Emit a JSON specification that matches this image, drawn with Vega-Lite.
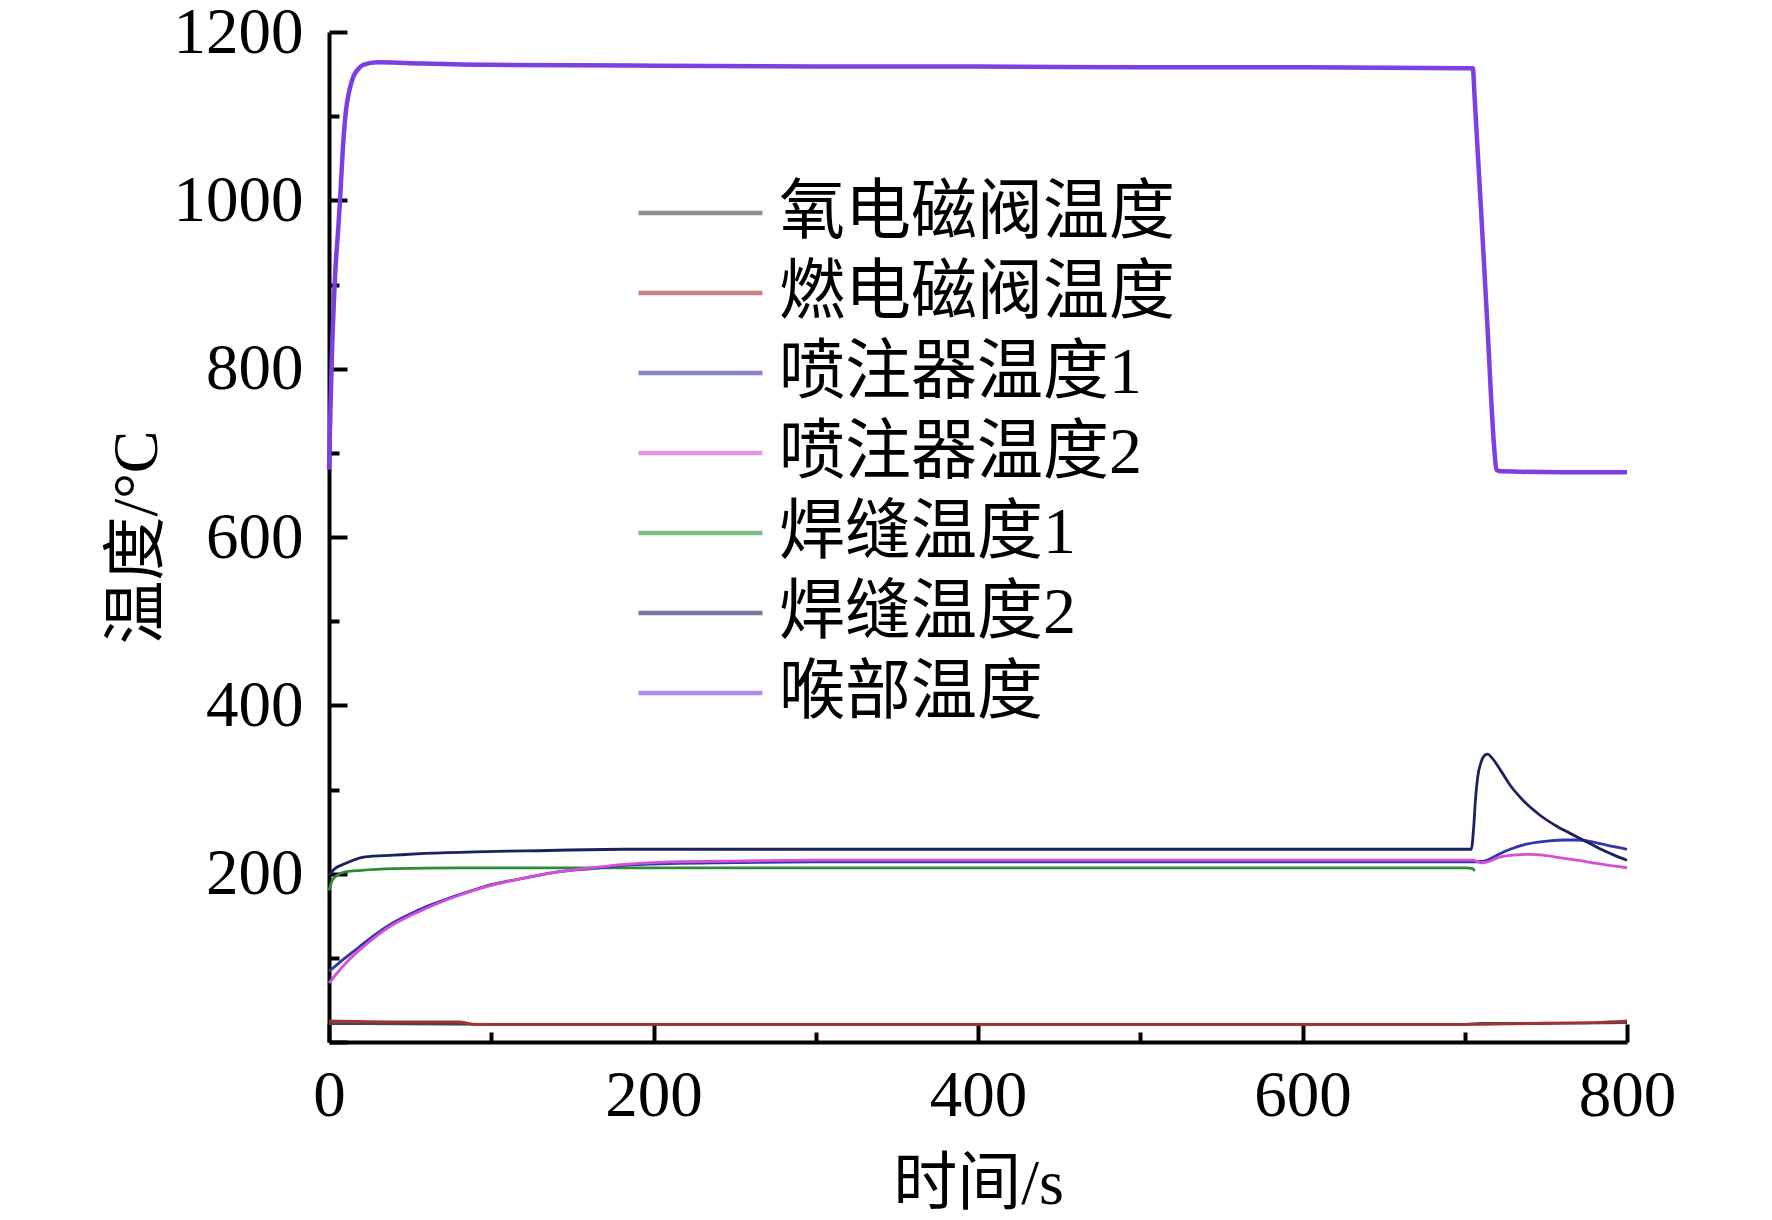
{
  "$schema": "https://vega.github.io/schema/vega-lite/v6.json",
  "width": 1298,
  "height": 1010,
  "autosize": "none",
  "padding": {"left": 329, "top": 32, "right": 145, "bottom": 178},
  "background": "white",
  "config": {
    "view": {"stroke": null},
    "axis": {
      "grid": false,
      "domainColor": "black",
      "domainWidth": 4,
      "tickColor": "black",
      "tickWidth": 4,
      "labelFont": "Liberation Serif",
      "labelFontSize": 65,
      "labelColor": "black",
      "labelFlush": false,
      "labelOverlap": false,
      "titleFont": "Liberation Serif, Noto Sans CJK SC",
      "titleFontSize": 64,
      "titleFontWeight": "normal",
      "titleColor": "black"
    }
  },
  "data": {
    "values": [
      {"series": "氧电磁阀温度", "t": 0, "T": 22},
      {"series": "氧电磁阀温度", "t": 100, "T": 21},
      {"series": "氧电磁阀温度", "t": 300, "T": 21},
      {"series": "氧电磁阀温度", "t": 500, "T": 21},
      {"series": "氧电磁阀温度", "t": 700, "T": 21},
      {"series": "氧电磁阀温度", "t": 710, "T": 22},
      {"series": "氧电磁阀温度", "t": 725, "T": 22},
      {"series": "氧电磁阀温度", "t": 800, "T": 23},

      {"series": "燃电磁阀温度", "t": 0, "T": 25},
      {"series": "燃电磁阀温度", "t": 40, "T": 24},
      {"series": "燃电磁阀温度", "t": 80, "T": 24},
      {"series": "燃电磁阀温度", "t": 90, "T": 21},
      {"series": "燃电磁阀温度", "t": 200, "T": 21},
      {"series": "燃电磁阀温度", "t": 400, "T": 21},
      {"series": "燃电磁阀温度", "t": 600, "T": 21},
      {"series": "燃电磁阀温度", "t": 700, "T": 21},
      {"series": "燃电磁阀温度", "t": 740, "T": 22},
      {"series": "燃电磁阀温度", "t": 780, "T": 23},
      {"series": "燃电磁阀温度", "t": 800, "T": 25},

      {"series": "焊缝温度1", "t": 0, "T": 180},
      {"series": "焊缝温度1", "t": 2, "T": 192},
      {"series": "焊缝温度1", "t": 5, "T": 198},
      {"series": "焊缝温度1", "t": 10, "T": 202},
      {"series": "焊缝温度1", "t": 20, "T": 204},
      {"series": "焊缝温度1", "t": 40, "T": 206},
      {"series": "焊缝温度1", "t": 80, "T": 207},
      {"series": "焊缝温度1", "t": 150, "T": 207},
      {"series": "焊缝温度1", "t": 300, "T": 207},
      {"series": "焊缝温度1", "t": 500, "T": 207},
      {"series": "焊缝温度1", "t": 700, "T": 207},
      {"series": "焊缝温度1", "t": 705, "T": 206},
      {"series": "焊缝温度1", "t": 706, "T": 203},

      {"series": "喷注器温度1", "t": 0, "T": 84},
      {"series": "喷注器温度1", "t": 5, "T": 92},
      {"series": "喷注器温度1", "t": 10, "T": 100},
      {"series": "喷注器温度1", "t": 18, "T": 112},
      {"series": "喷注器温度1", "t": 28, "T": 127},
      {"series": "喷注器温度1", "t": 39, "T": 141},
      {"series": "喷注器温度1", "t": 50, "T": 152},
      {"series": "喷注器温度1", "t": 59, "T": 160},
      {"series": "喷注器温度1", "t": 70, "T": 168},
      {"series": "喷注器温度1", "t": 80, "T": 175},
      {"series": "喷注器温度1", "t": 90, "T": 181},
      {"series": "喷注器温度1", "t": 100, "T": 187},
      {"series": "喷注器温度1", "t": 110, "T": 191},
      {"series": "喷注器温度1", "t": 121, "T": 195},
      {"series": "喷注器温度1", "t": 141, "T": 202},
      {"series": "喷注器温度1", "t": 162, "T": 206},
      {"series": "喷注器温度1", "t": 182, "T": 210},
      {"series": "喷注器温度1", "t": 210, "T": 212},
      {"series": "喷注器温度1", "t": 250, "T": 213},
      {"series": "喷注器温度1", "t": 300, "T": 214},
      {"series": "喷注器温度1", "t": 400, "T": 214},
      {"series": "喷注器温度1", "t": 500, "T": 214},
      {"series": "喷注器温度1", "t": 600, "T": 214},
      {"series": "喷注器温度1", "t": 700, "T": 214},
      {"series": "喷注器温度1", "t": 705, "T": 214},
      {"series": "喷注器温度1", "t": 712, "T": 215},
      {"series": "喷注器温度1", "t": 717, "T": 219},
      {"series": "喷注器温度1", "t": 722, "T": 224},
      {"series": "喷注器温度1", "t": 728, "T": 229},
      {"series": "喷注器温度1", "t": 738, "T": 235},
      {"series": "喷注器温度1", "t": 752, "T": 239},
      {"series": "喷注器温度1", "t": 762, "T": 240},
      {"series": "喷注器温度1", "t": 770, "T": 240},
      {"series": "喷注器温度1", "t": 778, "T": 238},
      {"series": "喷注器温度1", "t": 785, "T": 235},
      {"series": "喷注器温度1", "t": 792, "T": 232},
      {"series": "喷注器温度1", "t": 800, "T": 229},

      {"series": "喷注器温度2", "t": 0, "T": 70},
      {"series": "喷注器温度2", "t": 5, "T": 82},
      {"series": "喷注器温度2", "t": 10, "T": 93},
      {"series": "喷注器温度2", "t": 18, "T": 108},
      {"series": "喷注器温度2", "t": 28, "T": 124},
      {"series": "喷注器温度2", "t": 39, "T": 139},
      {"series": "喷注器温度2", "t": 50, "T": 150},
      {"series": "喷注器温度2", "t": 59, "T": 158},
      {"series": "喷注器温度2", "t": 70, "T": 167},
      {"series": "喷注器温度2", "t": 80, "T": 174},
      {"series": "喷注器温度2", "t": 100, "T": 186},
      {"series": "喷注器温度2", "t": 121, "T": 195},
      {"series": "喷注器温度2", "t": 141, "T": 202},
      {"series": "喷注器温度2", "t": 162, "T": 207},
      {"series": "喷注器温度2", "t": 182, "T": 211},
      {"series": "喷注器温度2", "t": 210, "T": 214},
      {"series": "喷注器温度2", "t": 250, "T": 215},
      {"series": "喷注器温度2", "t": 300, "T": 216},
      {"series": "喷注器温度2", "t": 400, "T": 216},
      {"series": "喷注器温度2", "t": 500, "T": 216},
      {"series": "喷注器温度2", "t": 600, "T": 216},
      {"series": "喷注器温度2", "t": 700, "T": 216},
      {"series": "喷注器温度2", "t": 705, "T": 216},
      {"series": "喷注器温度2", "t": 710, "T": 213},
      {"series": "喷注器温度2", "t": 714, "T": 214},
      {"series": "喷注器温度2", "t": 722, "T": 220},
      {"series": "喷注器温度2", "t": 730, "T": 222},
      {"series": "喷注器温度2", "t": 740, "T": 223},
      {"series": "喷注器温度2", "t": 748, "T": 222},
      {"series": "喷注器温度2", "t": 755, "T": 220},
      {"series": "喷注器温度2", "t": 769, "T": 216},
      {"series": "喷注器温度2", "t": 785, "T": 211},
      {"series": "喷注器温度2", "t": 800, "T": 207},

      {"series": "焊缝温度2", "t": 0, "T": 198},
      {"series": "焊缝温度2", "t": 3, "T": 205},
      {"series": "焊缝温度2", "t": 10, "T": 212},
      {"series": "焊缝温度2", "t": 22, "T": 220},
      {"series": "焊缝温度2", "t": 40, "T": 222},
      {"series": "焊缝温度2", "t": 59, "T": 224},
      {"series": "焊缝温度2", "t": 90, "T": 226},
      {"series": "焊缝温度2", "t": 121, "T": 227},
      {"series": "焊缝温度2", "t": 182, "T": 229},
      {"series": "焊缝温度2", "t": 300, "T": 229},
      {"series": "焊缝温度2", "t": 400, "T": 229},
      {"series": "焊缝温度2", "t": 500, "T": 229},
      {"series": "焊缝温度2", "t": 600, "T": 229},
      {"series": "焊缝温度2", "t": 704, "T": 229},
      {"series": "焊缝温度2", "t": 705.5, "T": 255},
      {"series": "焊缝温度2", "t": 706.5, "T": 285},
      {"series": "焊缝温度2", "t": 708, "T": 315},
      {"series": "焊缝温度2", "t": 710, "T": 332},
      {"series": "焊缝温度2", "t": 712, "T": 340},
      {"series": "焊缝温度2", "t": 714, "T": 342},
      {"series": "焊缝温度2", "t": 717, "T": 337},
      {"series": "焊缝温度2", "t": 722, "T": 323},
      {"series": "焊缝温度2", "t": 728, "T": 305},
      {"series": "焊缝温度2", "t": 736, "T": 287},
      {"series": "焊缝温度2", "t": 746, "T": 270},
      {"series": "焊缝温度2", "t": 757, "T": 256},
      {"series": "焊缝温度2", "t": 769, "T": 244},
      {"series": "焊缝温度2", "t": 778, "T": 235},
      {"series": "焊缝温度2", "t": 785, "T": 228},
      {"series": "焊缝温度2", "t": 792, "T": 222},
      {"series": "焊缝温度2", "t": 800, "T": 216},

      {"series": "喉部温度", "t": 0, "T": 680},
      {"series": "喉部温度", "t": 1, "T": 760},
      {"series": "喉部温度", "t": 2, "T": 830},
      {"series": "喉部温度", "t": 3, "T": 880},
      {"series": "喉部温度", "t": 4, "T": 920},
      {"series": "喉部温度", "t": 5.5, "T": 961},
      {"series": "喉部温度", "t": 6.8, "T": 1000},
      {"series": "喉部温度", "t": 8.5, "T": 1060},
      {"series": "喉部温度", "t": 10.3, "T": 1104},
      {"series": "喉部温度", "t": 12.5, "T": 1130},
      {"series": "喉部温度", "t": 15, "T": 1147},
      {"series": "喉部温度", "t": 18, "T": 1156},
      {"series": "喉部温度", "t": 21, "T": 1161},
      {"series": "喉部温度", "t": 30, "T": 1164},
      {"series": "喉部温度", "t": 50, "T": 1163},
      {"series": "喉部温度", "t": 100, "T": 1161},
      {"series": "喉部温度", "t": 200, "T": 1160},
      {"series": "喉部温度", "t": 300, "T": 1159},
      {"series": "喉部温度", "t": 400, "T": 1159},
      {"series": "喉部温度", "t": 500, "T": 1158},
      {"series": "喉部温度", "t": 600, "T": 1158},
      {"series": "喉部温度", "t": 700, "T": 1157},
      {"series": "喉部温度", "t": 705, "T": 1157},
      {"series": "喉部温度", "t": 706, "T": 1125},
      {"series": "喉部温度", "t": 710, "T": 990},
      {"series": "喉部温度", "t": 714, "T": 850},
      {"series": "喉部温度", "t": 718, "T": 710},
      {"series": "喉部温度", "t": 719.5, "T": 680},
      {"series": "喉部温度", "t": 722, "T": 678},
      {"series": "喉部温度", "t": 760, "T": 677},
      {"series": "喉部温度", "t": 800, "T": 677}
    ]
  },
  "mark": {"type": "line", "interpolate": "monotone"},
  "encoding": {
    "x": {
      "field": "t",
      "type": "quantitative",
      "scale": {"domain": [0, 800], "nice": false},
      "axis": {
        "title": "时间/s",
        "values": [0, 100, 200, 300, 400, 500, 600, 700, 800],
        "labelExpr": "datum.value % 200 === 0 ? format(datum.value, 'd') : ''",
        "tickSize": {"condition": {"test": "datum.value % 200 === 0", "value": -18}, "value": -10},
        "labelPadding": 40,
        "titlePadding": 16
      }
    },
    "y": {
      "field": "T",
      "type": "quantitative",
      "scale": {"domain": [0, 1200], "nice": false},
      "axis": {
        "title": "温度/°C",
        "values": [0, 100, 200, 300, 400, 500, 600, 700, 800, 900, 1000, 1100, 1200],
        "labelExpr": "datum.value % 200 === 0 && datum.value > 0 ? format(datum.value, 'd') : ''",
        "tickSize": {"condition": {"test": "datum.value % 200 === 0", "value": -18}, "value": -10},
        "labelPadding": 44,
        "titlePadding": 4
      }
    },
    "color": {
      "field": "series",
      "type": "nominal",
      "scale": {
        "domain": ["氧电磁阀温度", "燃电磁阀温度", "喷注器温度1", "喷注器温度2", "焊缝温度1", "焊缝温度2", "喉部温度"],
        "range": ["#404850", "#a83030", "#3434b0", "#d650d6", "#2e8b3a", "#1c2260", "#7b3fe4"]
      },
      "legend": {
        "title": null,
        "orient": "none",
        "legendX": 307,
        "legendY": 141,
        "symbolType": "stroke",
        "symbolSize": 15376,
        "symbolStrokeWidth": 4.5,
        "symbolOpacity": 0.6,
        "labelFont": "Liberation Serif, Noto Sans CJK SC",
        "labelFontSize": 66,
        "labelColor": "black",
        "labelOffset": 14,
        "labelLimit": 0,
        "clipHeight": 80,
        "rowPadding": 0
      }
    },
    "strokeWidth": {
      "condition": {"test": "datum.series === '喉部温度'", "value": 4.5},
      "value": 2.8
    }
  }
}
